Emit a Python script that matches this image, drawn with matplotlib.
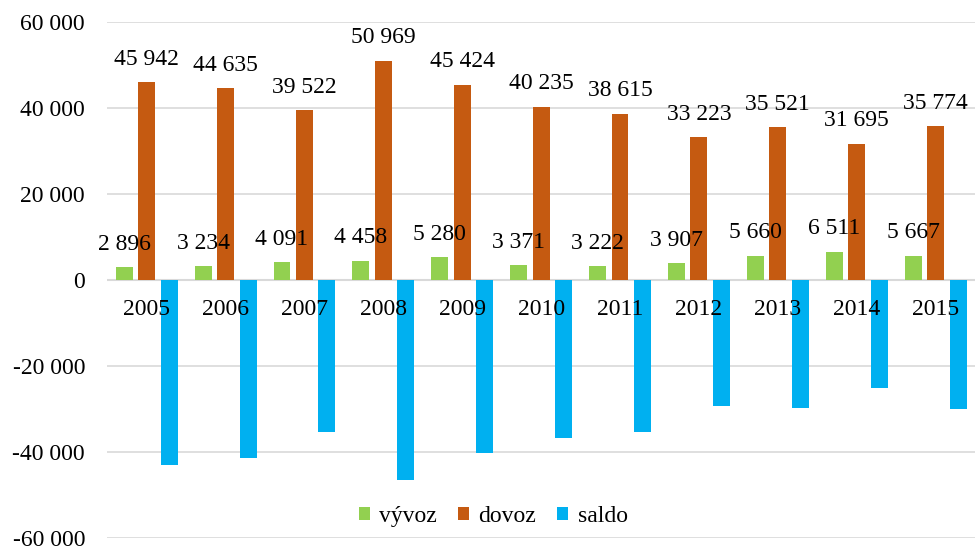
import numpy as np
import matplotlib.pyplot as plt
from matplotlib.ticker import FuncFormatter

years = ['2005', '2006', '2007', '2008', '2009', '2010',
         '2011', '2012', '2013', '2014', '2015']
vyvoz = [2896, 3234, 4091, 4458, 5280, 3371, 3222, 3907, 5660, 6511, 5667]
dovoz = [45942, 44635, 39522, 50969, 45424, 40235, 38615, 33223, 35521, 31695, 35774]
saldo = [-43046, -41401, -35431, -46511, -40144, -36864,
         -35393, -29316, -29861, -25184, -30107]

plt.rcParams['font.family'] = ['Liberation Serif', 'DejaVu Serif']
plt.rcParams['font.size'] = 17

def space_thousands(v):
    s = f'{abs(int(round(v))):,}'.replace(',', ' ')
    return ('-' if v < 0 else '') + s

fig = plt.figure(figsize=(9.75, 5.5), dpi=100)
ax = fig.add_axes([0.11, 0.022, 0.89, 0.938])

x = np.arange(len(years))
step = 0.285
w = 0.215
b1 = ax.bar(x - step, vyvoz, w, color='#92d050', label='vývoz', zorder=2)
b2 = ax.bar(x, dovoz, w, color='#c55a11', label='dovoz', zorder=2)
b3 = ax.bar(x + step, saldo, w, color='#00b0f0', label='saldo', zorder=2)

# value labels over export and import bars
for bars, vals in ((b1, vyvoz), (b2, dovoz)):
    for r, v in zip(bars, vals):
        ax.annotate(space_thousands(v), (r.get_x() + r.get_width() / 2, v),
                    xytext=(0, 9), textcoords='offset points',
                    ha='center', va='bottom', zorder=4)

# year labels sit just under the zero line, over the saldo bars
for i, y in enumerate(years):
    ax.annotate(y, (i, 0), xytext=(0, -21), textcoords='offset points',
                ha='center', va='center', zorder=4)

ax.set_xlim(-0.5, len(years) - 0.5)
ax.set_ylim(-60000, 60000)
ax.set_yticks(np.arange(-60000, 60001, 20000))
ax.yaxis.set_major_formatter(FuncFormatter(lambda v, p: space_thousands(v)))
ax.set_xticks([])
ax.tick_params(axis='y', length=0, pad=16)
ax.grid(axis='y', color='#d9d9d9', linewidth=1.2, zorder=0)
ax.axhline(0, color='#d9d9d9', linewidth=1.5, zorder=1)
for s in ax.spines.values():
    s.set_visible(False)

ax.legend(loc='center', bbox_to_anchor=(0.445, 0.041), ncol=3, frameon=False,
          handlelength=0.45, handleheight=0.45, handletextpad=0.4,
          columnspacing=0.9, borderaxespad=0)

fig.savefig('out.png', dpi=100)
